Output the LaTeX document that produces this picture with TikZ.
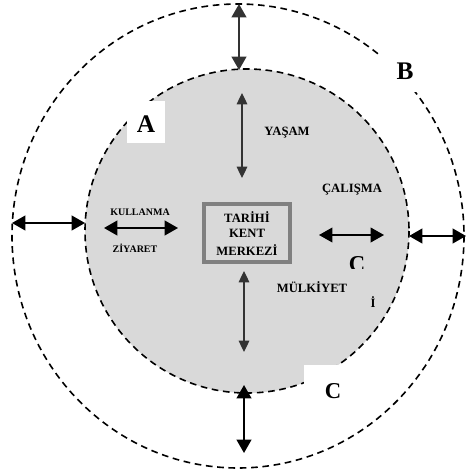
\documentclass[tikz,border=0pt]{standalone}
\usepackage{fontspec}
\setmainfont{Liberation Serif}
\usetikzlibrary{arrows.meta,positioning}
\definecolor{kentgray}{HTML}{D9D9D9}
\definecolor{boxgray}{HTML}{808080}
\tikzset{Kent/.style = {
		x=0.75pt, y=-0.75pt,
		every node/.style = {font=\bfseries\fontsize{9.5}{10}\selectfont, inner sep=0pt},
		ring/.style = {dash pattern=on 5pt off 3.5pt, line width=1.2pt},
		bigarrow/.style = {line width=1.5pt,
			{Triangle[length=10pt,width=11pt]}-{Triangle[length=10pt,width=11pt]}},
		thinarrow/.style = {line width=0.9pt, draw=black!80,
			{Triangle[length=8.5pt,width=8pt]}-{Triangle[length=8.5pt,width=8pt]}},
		letter/.style = {font=\bfseries\fontsize{19}{20}\selectfont, anchor=base},
		whitepatch/.style = {fill=white, draw=none},
		centrebox/.style = {draw=boxgray, line width=2.5pt, fill=kentgray},
	}% end of Kent style
}

\begin{document}
\begin{tikzpicture}[Kent]
	\useasboundingbox (0,0) rectangle (466,470);

	% rings
	\draw[ring] (238,236) ellipse [x radius=226, y radius=232];
	\fill[kentgray] (247,231) circle [radius=162];
	\draw[ring] (247,231) circle [radius=162];

	% white patches behind the letters
	\fill[whitepatch] (127,101) rectangle (165,143);
	\fill[whitepatch] (380,52) rectangle (423,92);
	\fill[whitepatch] (304,365) rectangle (348,405);

	\node[letter] (Atext) at (146,133) {A};
	\node[letter] (Btext) at (405,80) {B};
	\node[letter, font=\bfseries\fontsize{17}{18}\selectfont] (Ctext) at (333,398) {C};
	\begin{scope}
		\clip (335,240) rectangle (380,268);
		\node[letter, font=\bfseries\fontsize{17}{18}\selectfont] (Cclip) at (357,271) {C};
	\end{scope}

	% centre
	\draw[centrebox] (204,204) rectangle (290,262);
	\node (tarihi) at (247,217) {TARİHİ};
	\node (kent) at (247,233) {KENT};
	\node (merkezi) at (247,250) {MERKEZİ};

	\node (yasam) at (287,133) {YAŞAM};
	\node (calisma) at (352,190) {ÇALIŞMA};
	\node (mulkiyet) at (312,287) {MÜLKİYET};
	\node (itext) at (373,302) {İ};
	\node[font=\bfseries\fontsize{7.5}{8}\selectfont] (kullanma) at (140,212) {KULLANMA};
	\node[font=\bfseries\fontsize{7.5}{8}\selectfont] (ziyaret) at (135,248) {ZİYARET};

	% arrow ends
	\coordinate (topA) at (239,4);
	\coordinate (topB) at (239,70);
	\coordinate (yasA) at (242,93);
	\coordinate (yasB) at (242,178);
	\coordinate (botA) at (244,271);
	\coordinate (botB) at (244,352);
	\coordinate (botC) at (244,385);
	\coordinate (botD) at (244,453);
	\coordinate (leftA) at (12,223);
	\coordinate (leftB) at (85,223);
	\coordinate (kulA) at (104,228);
	\coordinate (kulB) at (178,228);
	\coordinate (rightA) at (319,235);
	\coordinate (rightB) at (384,235);
	\coordinate (rightC) at (409,236);
	\coordinate (rightD) at (466,236);

	\draw[bigarrow, draw=black!80] (topA) -- (topB);
	\draw[thinarrow] (yasA) -- (yasB);
	\draw[thinarrow] (botA) -- (botB);
	\draw[bigarrow] (botC) -- (botD);
	\draw[bigarrow] (leftA) -- (leftB);
	\draw[bigarrow] (kulA) -- (kulB);
	\draw[bigarrow, line width=1.2pt] (rightA) -- (rightB);
	\draw[bigarrow] (rightC) -- (rightD);
\end{tikzpicture}
\end{document}
